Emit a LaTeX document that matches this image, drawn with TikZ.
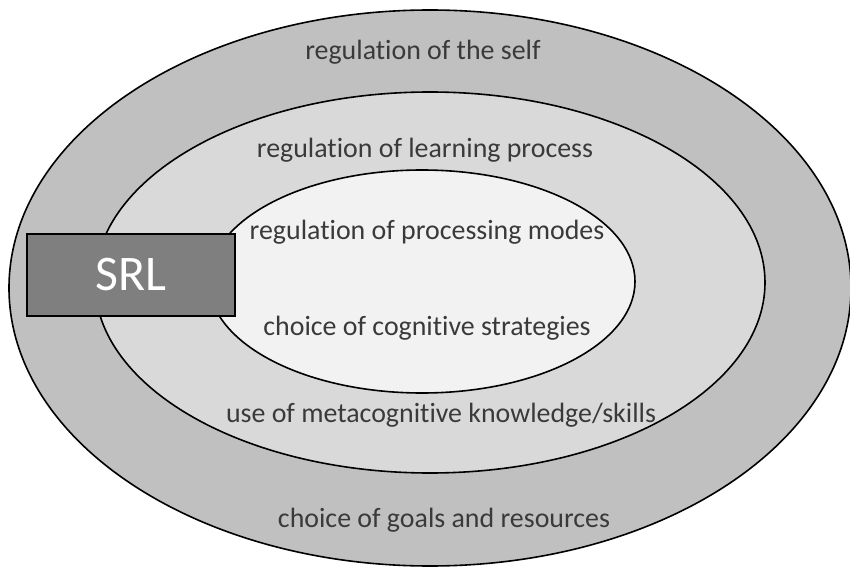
\documentclass[tikz,border=0pt]{standalone}
\usepackage{fontspec}
\setmainfont[Ligatures={NoCommon}]{Carlito}
\definecolor{ringout}{HTML}{C0C0C0}
\definecolor{ringmid}{HTML}{D9D9D9}
\definecolor{ringin}{HTML}{F2F2F2}
\definecolor{srlbox}{HTML}{7F7F7F}
\definecolor{txtgray}{HTML}{3A3A3A}
\tikzset{
    ring/.style={draw=black, line width=1.6bp},
    lbl/.style={text=txtgray, font=\fontsize{28}{30}\selectfont, inner sep=0pt}
}
\begin{document}
\begin{tikzpicture}[x=1bp, y=-1bp]
    \useasboundingbox[fill=white] (0,0) rectangle (850,569);
    \coordinate (C) at (430,288);

    \draw[ring, fill=ringout] (430,288) ellipse [x radius=421, y radius=278];
    \draw[ring, fill=ringmid] (430,282.5) ellipse [x radius=335, y radius=190.5];
    \draw[ring, fill=ringin] (422,281.5) ellipse [x radius=213, y radius=111.5];

    \node[draw=black, line width=1.6bp, fill=srlbox, minimum width=208bp, minimum height=82bp,
          text=white, font=\fontsize{50}{54}\selectfont, inner sep=0pt] (srl) at (131,275) {SRL};

    \node[lbl] (self) at (423,52) {regulation of the self};
    \node[lbl] (learn) at (425,150) {regulation of learning process};
    \node[lbl] (modes) at (427,232) {regulation of processing modes};
    \node[lbl] (cogn) at (427,328) {choice of cognitive strategies};
    \node[lbl] (meta) at (441,415) {use of metacognitive knowledge/skills};
    \node[lbl] (goals) at (444,520) {choice of goals and resources};
\end{tikzpicture}
\end{document}
